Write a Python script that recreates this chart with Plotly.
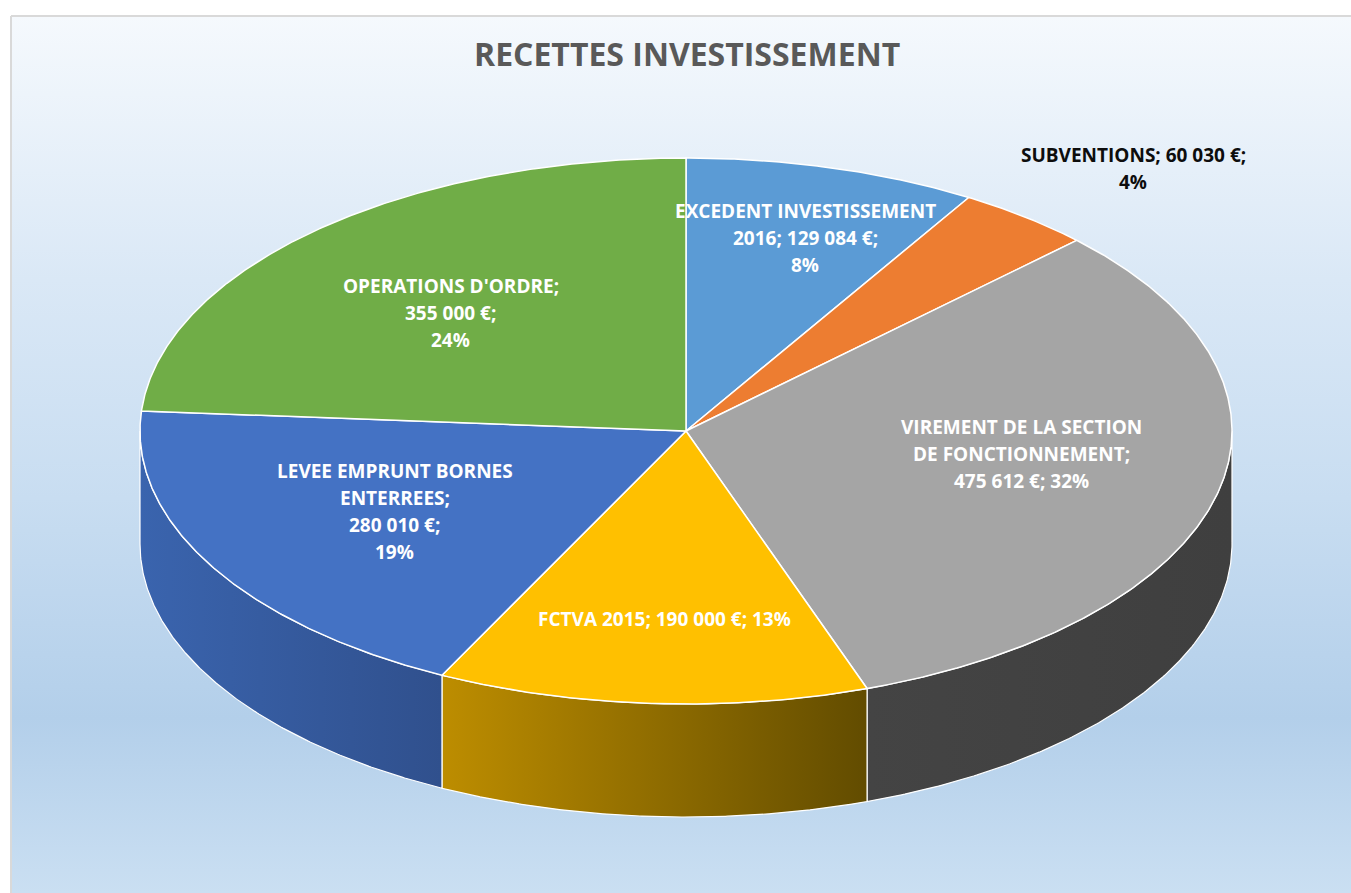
import numpy as np
import plotly.graph_objects as go

# ---------------- data ----------------
TITLE = "RECETTES INVESTISSEMENT"
CATEGORIES = [
    "EXCEDENT INVESTISSEMENT 2016",
    "SUBVENTIONS",
    "VIREMENT DE LA SECTION DE FONCTIONNEMENT",
    "FCTVA 2015",
    "LEVEE EMPRUNT BORNES ENTERREES",
    "OPERATIONS D'ORDRE",
]
VALUES = [129084, 60030, 475612, 190000, 280010, 355000]
PERCENTS = [8, 4, 32, 13, 19, 24]

# ---------------- style ----------------
TOP_COLORS = ["#5b9bd5", "#ed7d31", "#a5a5a5", "#ffc000", "#4472c4", "#70ad47"]
WALL_COLORS = [
    ("#4a7fb3", "#4a7fb3"),
    ("#b85e25", "#b85e25"),
    ("#444444", "#3f3f3f"),
    ("#bd8d00", "#624c00"),
    ("#3a64ae", "#30508d"),
    ("#548235", "#548235"),
]
LABEL_COLORS = ["#ffffff", "#0d0d0d", "#ffffff", "#ffffff", "#ffffff", "#ffffff"]
LINE_SPLITS = [[2, 2, 1], [2, 1], [4, 2, 2], [4], [3, 1, 1, 1], [2, 1, 1]]
LABEL_R = [0.74, 1.262, 0.62, 0.69, 0.61, 0.61]
LABEL_DA = [1.6, 2.0, -5.3, -0.3, 0.6, -2.1]

W, H = 1351, 893
CX, CY, RX, RY, DEPTH = 686, 431, 546, 273, 113
LINE_H = 27
FONT = "Open Sans"

total = float(sum(VALUES))
fracs = [v / total for v in VALUES]
starts = np.concatenate([[0.0], np.cumsum(fracs)[:-1]]) * 360.0
ends = np.cumsum(fracs) * 360.0


def pt(theta_deg, r=1.0, dy=0.0):
    t = np.radians(theta_deg)
    return CX + r * RX * np.sin(t), CY - r * RY * np.cos(t) + dy


def fmt_val(v):
    return f"{v:,}".replace(",", "\u00a0") + "\u00a0€"


fig = go.Figure()

# background with gradient
fig.add_trace(go.Scatter(
    x=[11, 1400, 1400, 11, 11], y=[16, 16, 950, 950, 16],
    mode="lines", fill="toself",
    line=dict(color="#d9d9d9", width=2),
    fillgradient=dict(type="vertical", start=16, stop=893,
                      colorscale=[[0, "#f5f9fd"], [0.3, "#dae8f6"], [0.55, "#c8ddf1"],
                                  [0.8, "#b3cfea"], [1.0, "#cadff2"]]),
    hoverinfo="skip", showlegend=False,
))

# side walls (front half: 90..270 degrees)
for i in range(len(VALUES)):
    a0 = max(starts[i], 90.0)
    a1 = min(ends[i], 270.0)
    if a1 <= a0:
        continue
    th = np.linspace(a0, a1, 200)
    xt, yt = pt(th)
    xb, yb = pt(th[::-1], dy=DEPTH)
    xs = np.concatenate([xt, xb, xt[:1]])
    ys = np.concatenate([yt, yb, yt[:1]])
    c0, c1 = WALL_COLORS[i]
    fig.add_trace(go.Scatter(
        x=xs, y=ys, mode="lines", fill="toself",
        line=dict(color="#ffffff", width=1.2),
        fillgradient=dict(type="horizontal", colorscale=[[0, c0], [1, c1]]),
        hoverinfo="skip", showlegend=False,
    ))

# top face slices
for i in range(len(VALUES)):
    n = max(int((ends[i] - starts[i]) * 3), 20)
    th = np.linspace(starts[i], ends[i], n)
    xa, ya = pt(th)
    xs = np.concatenate([[CX], xa, [CX]])
    ys = np.concatenate([[CY], ya, [CY]])
    fig.add_trace(go.Scatter(
        x=xs, y=ys, mode="lines", fill="toself", fillcolor=TOP_COLORS[i],
        line=dict(color="#ffffff", width=1.5),
        hoverinfo="skip", showlegend=False,
    ))

# data labels
annotations = []
for i, name in enumerate(CATEGORIES):
    full = f"{name}; {fmt_val(VALUES[i])}; {PERCENTS[i]}%"
    tokens = full.split(" ")
    lines, k = [], 0
    for cnt in LINE_SPLITS[i]:
        lines.append(" ".join(tokens[k:k + cnt]))
        k += cnt
    mid = (starts[i] + ends[i]) / 2 + LABEL_DA[i]
    lx, ly = pt(mid, r=LABEL_R[i])
    nl = len(lines)
    for j, ln in enumerate(lines):
        annotations.append(dict(
            x=lx, y=ly + (j - (nl - 1) / 2) * LINE_H, xref="x", yref="y",
            text=ln, showarrow=False, xanchor="center", yanchor="middle",
            font=dict(family=FONT, size=19, color=LABEL_COLORS[i], weight=700),
        ))

annotations.append(dict(
    x=687, y=53, xref="x", yref="y", text=TITLE, showarrow=False,
    xanchor="center", yanchor="middle",
    font=dict(family=FONT, size=32, color="#595959", weight=700),
))

fig.update_layout(
    width=W, height=H,
    margin=dict(l=0, r=0, t=0, b=0),
    paper_bgcolor="#ffffff", plot_bgcolor="rgba(0,0,0,0)",
    xaxis=dict(range=[0, W], visible=False, domain=[0, 1], fixedrange=True),
    yaxis=dict(range=[H, 0], visible=False, domain=[0, 1], fixedrange=True),
    annotations=annotations,
    showlegend=False,
)

fig.write_html(
    "out.html",
    config={"displayModeBar": False},
    post_script="document.body.style.margin='0';document.body.style.overflow='hidden';",
)
